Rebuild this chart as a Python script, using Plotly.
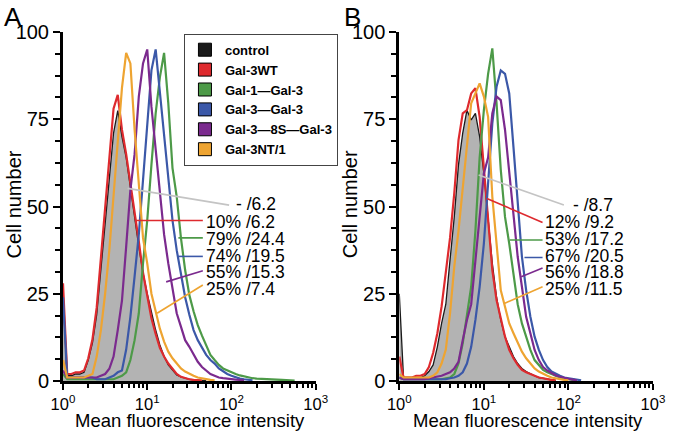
import plotly.graph_objects as go

FONT = "Liberation Sans, Arial, Helvetica, sans-serif"

# histogram bins (log10 of intensity), 0.05 decade wide
log_bins = [round(0.05 * i, 2) for i in range(56)]

series_names = ["control", "Gal-3WT", "Gal-1\u2014Gal-3", "Gal-3\u2014Gal-3",
                "Gal-3\u20148S\u2014Gal-3", "Gal-3NT/1"]
line_colors = ["#1a1a1a", "#de2a2e", "#4d9a48", "#3b58a8", "#7b2a8e", "#eea431"]
pointer_colors = ["#c4c4c4", "#de2a2e", "#4d9a48", "#3b58a8", "#7b2a8e", "#eea431"]

# ---- panel A cell counts per bin ----
a_control = [25, 1.5, 1.5, 2, 2, 2.5, 6, 11, 19, 32, 46, 59.5, 71, 77.5, 70, 64, 56, 47,
             38.5, 31, 25, 19.4, 14.6, 10.3, 7, 4.6, 3.2, 1.7, 1.2, 0.8, 0.5, 0.3, 0.2, 0.2, 0.1]
a_wt = [28, 2, 2, 2.5, 2.5, 3, 6.5, 12, 21, 35, 50, 63, 78, 82, 72, 65, 57, 49, 40, 31, 24,
        18, 13.5, 9.5, 7, 5, 3.5, 2, 1.2, 0.8, 0.5, 0.3, 0.2, 0.1]
a_g1g3 = [2, 0.5, 0.5, 0.5, 0.5, 0.5, 0.5, 0.5, 0.5, 0.5, 0.5, 0.5, 0.5, 1, 1.5, 2.5, 6, 11.7,
          19.4, 33.7, 46, 62, 76.7, 87, 94, 79.6, 61, 52.8, 41, 31.8, 24.6, 20, 16, 13, 10.3,
          7.5, 6, 4.6, 3.6, 3, 2.5, 2, 1.6, 1.3, 1, 0.8, 0.7, 0.6, 0.5, 0.45, 0.4, 0.35, 0.3,
          0.25, 0.2, 0.1]
a_g3g3 = [24, 1, 1, 1, 1, 1, 1, 1, 0.5, 0.5, 0.5, 1, 1.5, 2.5, 3, 9, 18.4, 30, 42, 57.6, 74,
          89, 95, 82.4, 70, 58.5, 46, 37.5, 31, 24, 19, 14.6, 11.7, 9.4, 7.5, 6, 5, 3.6, 2.7,
          2, 1.5, 1, 0.7, 0.5, 0.3, 0.2]
a_8s = [3, 1, 1, 1, 1, 1, 1, 1, 1, 1.5, 2, 3.5, 7, 14.6, 23, 38.5, 54.7, 65, 81.5, 91, 95,
        78.6, 66, 54.7, 42, 33.7, 26, 19.4, 15.6, 11.7, 9.8, 7.5, 5.5, 4, 3, 2, 1.5, 1, 0.8,
        0.6, 0.5, 0.4, 0.3, 0.2]
a_nt1 = [6, 1, 1, 1, 1, 1, 1.5, 2, 7, 14.6, 25, 37.5, 53, 69, 84, 94, 91, 72, 57.6, 41, 33.7,
         25, 20, 15, 11.3, 8.4, 6.5, 5, 3.6, 2.7, 2, 1.5, 1, 0.7, 0.5, 0.3, 0.2]

# ---- panel B cell counts per bin ----
b_control = [25, 1, 1, 1, 1, 1, 1.5, 2.7, 4.6, 9.8, 16.5, 22, 34.7, 47, 62, 71, 77.6, 74.8,
             76.7, 70, 59.5, 46, 33.7, 24, 17.5, 12.7, 9.8, 7, 5, 3.6, 2.7, 2, 1.5, 1, 0.7,
             0.5, 0.3, 0.2]
b_wt = [7, 1, 1, 1, 1.5, 1.5, 2, 4, 8, 13.7, 21.3, 31, 41, 53.8, 69, 76.7, 77.6, 82.4, 83.9,
        75.7, 60.5, 45, 31.8, 23.2, 17.5, 12.7, 8.9, 6.5, 4.6, 3.2, 2.5, 2, 1.5, 1, 0.8, 0.5,
        0.3, 0.2]
b_g1g3 = [1, 0.5, 0.5, 0.5, 0.5, 0.5, 0.5, 0.5, 0.5, 0.5, 0.5, 0.8, 1, 2, 5, 10.8, 18.4, 27,
          43, 64, 77.6, 88, 95.3, 79.6, 60.5, 47, 39.4, 30, 22, 16.5, 12.7, 8.9, 6, 4.6, 3.2,
          2.5, 2, 1.5, 1, 0.8, 0.5, 0.3, 0.2]
b_g3g3 = [1, 0.5, 0.5, 0.5, 0.5, 0.5, 0.5, 0.5, 0.5, 0.5, 0.5, 0.5, 0.8, 1, 1.5, 2.5, 5, 9.8,
          17.5, 27, 39.4, 56.6, 73.8, 84.3, 89, 88, 82.4, 67, 51, 35.6, 26, 18.4, 12.7, 8.9, 6,
          4, 2.7, 2, 1.5, 1, 0.8, 0.5, 0.3, 0.2]
b_8s = [1, 0.5, 0.5, 0.5, 0.5, 0.5, 0.5, 0.8, 1, 1.2, 1.5, 2, 2.5, 3.6, 5.5, 11.7, 17.5, 22,
        34.7, 47, 59.5, 64, 76.7, 81.5, 80.5, 72, 60.5, 47, 35.6, 27, 18.4, 13.7, 8.9, 6, 4, 3,
        2.2, 1.6, 1.2, 0.8, 0.6, 0.4, 0.2]
b_nt1 = [2, 1, 1, 1, 1, 1, 1, 1, 1.5, 2.5, 5, 9, 19.4, 32.8, 43, 54.7, 68, 79.6, 82.4, 85.3,
         81.5, 75.7, 52.8, 38.5, 26, 21.3, 16.5, 13.7, 10.8, 8.4, 6.5, 5, 3.6, 2.7, 2, 1.5, 1,
         0.7, 0.5, 0.3, 0.2]

panel_a = [a_control, a_wt, a_g1g3, a_g3g3, a_8s, a_nt1]
panel_b = [b_control, b_wt, b_g1g3, b_g3g3, b_8s, b_nt1]

labels_a = ["- /6.2", "10% /6.2", "79% /24.4", "74% /19.5", "55% /15.3", "25% /7.4"]
labels_b = ["- /8.7", "12% /9.2", "53% /17.2", "67% /20.5", "56% /18.8", "25% /11.5"]

x_tick_vals = [1, 10, 100, 1000]
x_tick_text = ["10<sup>0</sup>", "10<sup>1</sup>", "10<sup>2</sup>", "10<sup>3</sup>"]
x_minor_vals = [m * d for d in (1, 10, 100) for m in range(2, 10)]

# leader lines: (start log-x, start y) -> (end log-x, end y), label anchor (log-x, y)
leaders_a = [((0.767, 55.2), (1.972, 50.4), (2.03, 50.6)),
             ((0.863, 46.0), (1.66, 46.0), (1.675, 45.6)),
             ((1.37, 41.0), (1.66, 41.0), (1.675, 40.6)),
             ((1.369, 35.7), (1.66, 35.7), (1.675, 35.7)),
             ((1.225, 28.4), (1.66, 31.6), (1.675, 31.1)),
             ((1.117, 19.4), (1.66, 27.5), (1.675, 26.5))]
leaders_b = [((0.938, 59.0), (1.946, 50.4), (2.035, 50.4)),
             ((1.035, 52.3), (1.694, 45.4), (1.705, 45.6)),
             ((1.306, 40.4), (1.694, 40.4), (1.705, 40.6)),
             ((1.48, 35.4), (1.694, 35.4), (1.705, 35.7)),
             ((1.442, 29.9), (1.694, 32.4), (1.705, 31.1)),
             ((1.248, 22.3), (1.694, 27.0), (1.705, 26.5))]

fig = go.Figure()

for panel, (xa, ya) in ((panel_a, ("x", "y")), (panel_b, ("x2", "y2"))):
    for idx in [0, 1, 2, 3, 4, 5]:
        vals = panel[idx]
        xs = [10 ** b for b in log_bins[:len(vals)]]
        if idx == 0:
            fig.add_trace(go.Scatter(x=xs, y=vals, mode="lines", xaxis=xa, yaxis=ya,
                                     line=dict(color=line_colors[0], width=1.3),
                                     fill="tozeroy", fillcolor="#b3b3b3",
                                     name=series_names[idx], showlegend=False,
                                     hoverinfo="skip"))
        else:
            fig.add_trace(go.Scatter(x=xs, y=vals, mode="lines", xaxis=xa, yaxis=ya,
                                     line=dict(color=line_colors[idx], width=2.2),
                                     name=series_names[idx], showlegend=False,
                                     hoverinfo="skip"))

annotations = []
for leaders, labels, (xa, ya) in ((leaders_a, labels_a, ("x", "y")),
                                  (leaders_b, labels_b, ("x2", "y2"))):
    for i, ((x0, y0), (x1, y1), (tx, ty)) in enumerate(leaders):
        fig.add_trace(go.Scatter(x=[10 ** x0, 10 ** x1], y=[y0, y1], mode="lines",
                                 xaxis=xa, yaxis=ya, showlegend=False, hoverinfo="skip",
                                 line=dict(color=pointer_colors[i], width=1.6)))
        annotations.append(dict(x=tx, y=ty, xref=xa, yref=ya, text=labels[i],
                                showarrow=False, xanchor="left", yanchor="middle",
                                font=dict(size=17.5, family=FONT, color="black")))

# legend entries (square swatches)
for i, n in enumerate(series_names):
    fig.add_trace(go.Scatter(x=[None], y=[None], mode="markers", xaxis="x", yaxis="y",
                             name=n, marker=dict(symbol="square", size=13, color=line_colors[i],
                                                 line=dict(color="black", width=1))))

# panel letters and axis titles
for txt, x in (("A", -0.084), ("B", 0.490)):
    annotations.append(dict(x=x, y=1.043, xref="paper", yref="paper", text=txt,
                            showarrow=False, xanchor="center", yanchor="middle",
                            font=dict(size=26, family=FONT, color="black")))
for x in (-0.0825, 0.4867):
    annotations.append(dict(x=x, y=0.507, xref="paper", yref="paper", text="Cell number",
                            textangle=-90, showarrow=False, xanchor="center", yanchor="middle",
                            font=dict(size=20, family=FONT, color="black")))
for x in (0.215, 0.788):
    annotations.append(dict(x=x, y=-0.113, xref="paper", yref="paper",
                            text="Mean fluorescence intensity", showarrow=False,
                            xanchor="center", yanchor="middle",
                            font=dict(size=18.5, family=FONT, color="black")))

xaxis_common = dict(type="log", range=[0, 3], tickvals=x_tick_vals, ticktext=x_tick_text,
                    ticks="outside", ticklen=6, tickwidth=2, tickcolor="black",
                    showline=True, linewidth=3, linecolor="black", showgrid=False,
                    zeroline=False, tickfont=dict(size=16.5, family=FONT, color="black"),
                    minor=dict(tickvals=x_minor_vals, ticks="outside", ticklen=4,
                               tickwidth=1.5, tickcolor="black"))
yaxis_common = dict(range=[0, 100], tickvals=[0, 25, 50, 75, 100], ticks="outside",
                    ticklen=7, tickwidth=2, tickcolor="black", showline=True, linewidth=3,
                    linecolor="black", showgrid=False, zeroline=False,
                    tickfont=dict(size=20, family=FONT, color="black"),
                    minor=dict(dtick=6.25, ticks="outside", ticklen=5, tickwidth=1.5,
                               tickcolor="black"))

fig.update_layout(
    width=677, height=432,
    margin=dict(l=63, r=14, t=32, b=51),
    paper_bgcolor="white", plot_bgcolor="white",
    xaxis=dict(domain=[0, 0.4283], anchor="y", **xaxis_common),
    yaxis=dict(domain=[0, 1], anchor="x", **yaxis_common),
    xaxis2=dict(domain=[0.57, 1], anchor="y2", **xaxis_common),
    yaxis2=dict(domain=[0, 1], anchor="x2", **yaxis_common),
    showlegend=True,
    legend=dict(x=0.205, y=0.995, xanchor="left", yanchor="top", bgcolor="white",
                bordercolor="#444444", borderwidth=1, tracegroupgap=0,
                font=dict(size=13, family=FONT, color="black", weight="bold")),
    annotations=annotations,
    font=dict(family=FONT, color="black"),
)

# remove the default page margin so the figure fills the 677x432 window exactly
fig.write_html("out.html", config={"displayModeBar": False},
               post_script="document.body.style.margin='0px';document.body.style.overflow='hidden';")
